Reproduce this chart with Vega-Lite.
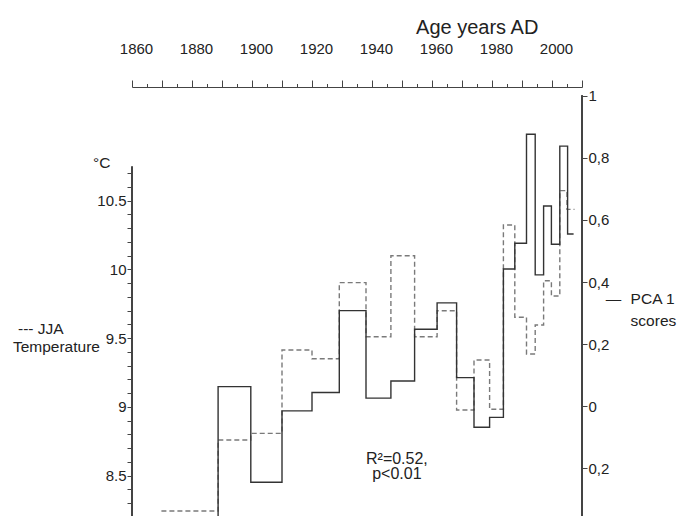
{
  "$schema": "https://vega.github.io/schema/vega-lite/v6.json",
  "width": 450,
  "height": 429,
  "autosize": {"type": "none"},
  "padding": {"left": 132, "top": 87, "right": 98, "bottom": 0},
  "background": "white",
  "config": {
    "view": {"stroke": null},
    "font": "Liberation Sans",
    "axis": {
      "grid": false,
      "domainColor": "#444",
      "tickColor": "#444",
      "labelColor": "#222",
      "titleColor": "#222",
      "labelFontSize": 15,
      "titleFontWeight": "normal",
      "labelOverlap": false,
      "labelFlush": false
    }
  },
  "datasets": {
    "jja": [
      {"year": 1869.8, "temp": 8.242},
      {"year": 1888.7, "temp": 8.759},
      {"year": 1899.6, "temp": 8.807},
      {"year": 1910.0, "temp": 9.413},
      {"year": 1920.0, "temp": 9.35},
      {"year": 1929.1, "temp": 9.903},
      {"year": 1938.0, "temp": 9.51},
      {"year": 1946.3, "temp": 10.099},
      {"year": 1954.2, "temp": 9.51},
      {"year": 1961.7, "temp": 9.699},
      {"year": 1968.2, "temp": 8.977},
      {"year": 1974.0, "temp": 9.34},
      {"year": 1979.2, "temp": 8.982},
      {"year": 1983.8, "temp": 10.322},
      {"year": 1987.6, "temp": 9.651},
      {"year": 1991.5, "temp": 9.384},
      {"year": 1994.4, "temp": 9.595},
      {"year": 1997.2, "temp": 9.917},
      {"year": 1999.8, "temp": 9.806},
      {"year": 2002.6, "temp": 10.572},
      {"year": 2005.0, "temp": 10.436},
      {"year": 2007.5, "temp": 10.436}
    ],
    "pca": [
      {"year": 1869.8, "pca": -0.42},
      {"year": 1888.7, "pca": 0.063},
      {"year": 1899.6, "pca": -0.245},
      {"year": 1910.0, "pca": -0.015},
      {"year": 1920.0, "pca": 0.044},
      {"year": 1929.1, "pca": 0.308},
      {"year": 1938.0, "pca": 0.026},
      {"year": 1946.3, "pca": 0.081},
      {"year": 1954.2, "pca": 0.248},
      {"year": 1961.7, "pca": 0.333},
      {"year": 1968.2, "pca": 0.092},
      {"year": 1974.0, "pca": -0.068},
      {"year": 1979.2, "pca": -0.036},
      {"year": 1983.8, "pca": 0.442},
      {"year": 1987.6, "pca": 0.525},
      {"year": 1991.5, "pca": 0.876},
      {"year": 1994.4, "pca": 0.423},
      {"year": 1997.2, "pca": 0.645},
      {"year": 1999.8, "pca": 0.522},
      {"year": 2002.6, "pca": 0.838},
      {"year": 2005.2, "pca": 0.555},
      {"year": 2007.2, "pca": 0.555}
    ],
    "legend": [
      {"label": "°C", "year": 1847, "temp": 10.773},
      {"label": "--- JJA", "year": 1822, "temp": 9.566},
      {"label": "Temperature", "year": 1820.3, "temp": 9.435},
      {"label": "—", "year": 2017.9, "temp": 9.784},
      {"label": "PCA 1", "year": 2026.2, "temp": 9.784},
      {"label": "scores", "year": 2026.2, "temp": 9.625}
    ],
    "notes": [
      {"label": "R²=0.52,", "year": 1948.3, "temp": 8.624},
      {"label": "p<0.01", "year": 1948.3, "temp": 8.508}
    ]
  },
  "encoding": {
    "x": {
      "field": "year",
      "type": "quantitative",
      "scale": {"domain": [1860, 2010], "nice": false, "zero": false},
      "axis": {
        "orient": "top",
        "title": "Age years AD",
        "titleFontSize": 20,
        "titleX": 344.7,
        "titleY": -54,
        "titleAlign": "center",
        "titleBaseline": "alphabetic",
        "values": [1860, 1865, 1870, 1875, 1880, 1885, 1890, 1895, 1900, 1905, 1910, 1915, 1920, 1925, 1930, 1935, 1940, 1945, 1950, 1955, 1960, 1965, 1970, 1975, 1980, 1985, 1990, 1995, 2000, 2005, 2010],
        "labelExpr": "datum.value % 20 == 0 ? format(datum.value, 'd') : ''",
        "tickSize": {"condition": {"test": "datum.value % 10 == 0", "value": 7}, "value": 3.5},
        "labelPadding": 24,
        "labelOffset": 4
      }
    }
  },
  "layer": [
    {
      "data": {"name": "jja"},
      "mark": {"type": "line", "interpolate": "step-after", "color": "#7a7a7a", "strokeWidth": 1.4, "strokeDash": [5, 3], "clip": true},
      "encoding": {
        "y": {
          "field": "temp",
          "type": "quantitative",
          "scale": {"domain": [8.2058, 11.326], "nice": false, "zero": false},
          "axis": {
            "orient": "left",
            "title": null,
            "domain": false,
            "values": [8.3, 8.4, 8.5, 8.6, 8.7, 8.8, 8.9, 9, 9.1, 9.2, 9.3, 9.4, 9.5, 9.6, 9.7, 9.8, 9.9, 10, 10.1, 10.2, 10.3, 10.4, 10.5, 10.6, 10.7],
            "labelExpr": "abs(datum.value * 2 - round(datum.value * 2)) < 0.01 ? format(datum.value, '~g') : ''",
            "tickSize": 5,
            "labelPadding": 1
          }
        }
      }
    },
    {
      "data": {"name": "pca"},
      "mark": {"type": "line", "interpolate": "step-after", "color": "#333333", "strokeWidth": 1.4, "clip": true},
      "encoding": {
        "y": {
          "field": "pca",
          "type": "quantitative",
          "scale": {"domain": [-0.3537, 1.0284], "nice": false, "zero": false},
          "axis": {
            "orient": "right",
            "title": null,
            "domain": false,
            "values": [-0.2, 0, 0.2, 0.4, 0.6, 0.8, 1],
            "labelExpr": "replace(format(abs(datum.value), '~g'), '.', ',')",
            "tickSize": 5,
            "labelPadding": 1
          }
        }
      }
    },
    {
      "data": {"name": "jja"},
      "mark": {"type": "rule", "color": "#444", "strokeWidth": 1},
      "encoding": {
        "x": {"datum": 1860, "type": "quantitative"},
        "y": {"datum": 8.2058, "type": "quantitative", "scale": {"domain": [8.2058, 11.326], "nice": false, "zero": false}, "axis": null},
        "y2": {"datum": 10.745}
      }
    },
    {
      "data": {"name": "pca"},
      "mark": {"type": "rule", "color": "#444", "strokeWidth": 1},
      "encoding": {
        "x": {"datum": 2010, "type": "quantitative"},
        "y": {"datum": -0.3537, "type": "quantitative", "scale": {"domain": [-0.3537, 1.0284], "nice": false, "zero": false}, "axis": null},
        "y2": {"datum": 1}
      }
    },
    {
      "data": {"name": "legend"},
      "mark": {"type": "text", "align": "left", "baseline": "middle", "fontSize": 15.5, "color": "#222"},
      "encoding": {
        "text": {"field": "label"},
        "y": {"field": "temp", "type": "quantitative", "scale": {"domain": [8.2058, 11.326], "nice": false, "zero": false}, "axis": null}
      }
    },
    {
      "data": {"name": "notes"},
      "mark": {"type": "text", "align": "center", "baseline": "middle", "fontSize": 16, "color": "#222"},
      "encoding": {
        "text": {"field": "label"},
        "y": {"field": "temp", "type": "quantitative", "scale": {"domain": [8.2058, 11.326], "nice": false, "zero": false}, "axis": null}
      }
    }
  ],
  "resolve": {"scale": {"y": "independent"}, "axis": {"y": "independent"}}
}
